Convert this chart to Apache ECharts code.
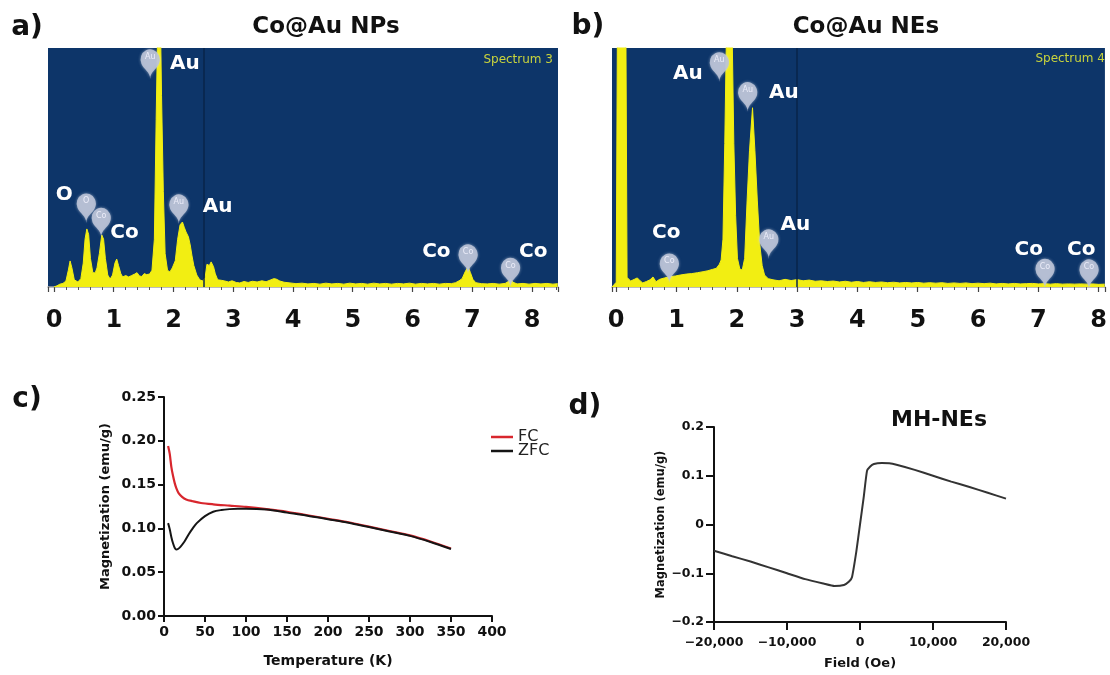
<!DOCTYPE html>
<html><head><meta charset="utf-8">
<script src="https://cdn.jsdelivr.net/npm/echarts@6/dist/echarts.min.js"></script>
<style>html,body{margin:0;padding:0;background:#fff}#c{width:1110px;height:675px}</style>
</head><body><div id="c"></div>
<script>
const FONT = 'DejaVu Sans';
const BLUE = '#0d3569';
const YELLOW = '#f2ee12';

// ---- Panel a: EDS spectrum, Co@Au NPs (keV, relative counts; >100 = off scale) ----
const spectrumA = [
[0.00,0],[0.05,0.5],[0.10,1.2],[0.15,1.5],[0.20,2.5],[0.24,7],[0.27,10.9],[0.30,8],[0.34,3],[0.40,2.1],
[0.45,3.5],[0.49,10],[0.52,20],[0.55,24.3],[0.58,22],[0.61,12],[0.65,6],[0.69,5.9],[0.72,8],[0.76,14],
[0.80,21.8],[0.83,20],[0.86,12],[0.90,5],[0.94,3.3],[0.98,5],[1.02,10],[1.05,11.7],[1.08,9],[1.12,5.5],
[1.15,4.2],[1.20,4.8],[1.25,4.2],[1.30,4.8],[1.35,5.4],[1.39,6],[1.43,4.6],[1.47,4.4],[1.51,5.6],[1.55,5.2],
[1.60,5.4],[1.64,7],[1.68,20],[1.71,70],[1.74,115],[1.78,115],[1.80,80],[1.83,40],[1.86,14],[1.90,7],
[1.94,6.3],[1.98,8],[2.03,11],[2.07,20],[2.11,26],[2.15,27.2],[2.18,25],[2.21,23],[2.25,21],[2.28,17.6],
[2.31,13],[2.34,9],[2.39,5],[2.44,3],[2.49,2.5],[2.53,4],[2.56,9.5],[2.60,9],[2.63,10.5],[2.67,8.5],
[2.70,5.5],[2.74,3],[2.80,2.8],[2.86,2.5],[2.92,2.1],[2.98,2.6],[3.05,1.9],[3.11,1.7],[3.18,2.3],[3.25,1.9],
[3.32,2.4],[3.40,2.1],[3.48,2.6],[3.55,2.2],[3.62,2.9],[3.68,3.5],[3.72,3.3],[3.78,2.5],[3.85,2.0],[3.95,1.7],
[4.05,1.4],[4.15,1.6],[4.25,1.3],[4.35,1.5],[4.45,1.2],[4.55,1.6],[4.65,1.3],[4.75,1.5],[4.85,1.2],[4.95,1.6],
[5.05,1.3],[5.15,1.5],[5.25,1.2],[5.35,1.6],[5.45,1.3],[5.55,1.5],[5.65,1.2],[5.75,1.5],[5.85,1.3],[5.95,1.6],
[6.05,1.2],[6.15,1.5],[6.25,1.3],[6.35,1.5],[6.45,1.2],[6.55,1.5],[6.65,1.4],[6.72,1.8],[6.78,2.6],[6.83,3.5],
[6.88,6.3],[6.93,8.5],[6.97,6],[7.01,3.2],[7.06,1.8],[7.15,1.4],[7.25,1.3],[7.35,1.5],[7.45,1.2],[7.55,1.5],
[7.60,2.2],[7.64,3.3],[7.68,2],[7.75,1.3],[7.85,1.5],[7.95,1.2],[8.05,1.5],[8.15,1.3],[8.25,1.5],[8.35,1.2],[8.43,1.4]
];
const textLabelsA = [[2.19,93.2,'Au'],[0.17,38.5,'O'],[1.18,22.7,'Co'],[2.74,33.6,'Au'],[6.40,14.8,'Co'],[8.02,14.8,'Co']];
const badgesA = [[1.61,95,'Au'],[0.54,34.7,'O'],[0.79,28.7,'Co'],[2.09,34.3,'Au'],[6.93,13.4,'Co'],[7.64,7.8,'Co']];
const markerA = 2.51;

// ---- Panel b: EDS spectrum, Co@Au NEs ----
const spectrumB = [
[-0.07,0],[0.00,2],[0.02,110],[0.16,110],[0.18,4],[0.24,2.5],[0.30,3.2],[0.35,3.8],[0.40,2.5],[0.44,1.7],
[0.50,2.3],[0.56,3],[0.61,4.2],[0.66,2.2],[0.72,3.2],[0.80,3.8],[0.89,4.3],[0.98,4.6],[1.06,5.0],[1.16,5.4],
[1.25,5.6],[1.35,6.0],[1.44,6.4],[1.52,6.8],[1.60,7.4],[1.66,7.8],[1.71,9.5],[1.74,11.3],[1.77,20],[1.80,60],
[1.83,110],[1.92,110],[1.95,60],[1.98,30],[2.01,12],[2.05,7.5],[2.09,7.1],[2.13,12],[2.17,36],[2.21,57],
[2.26,75],[2.30,57],[2.34,36],[2.38,18],[2.42,9],[2.46,5],[2.52,3.5],[2.60,3.0],[2.70,2.6],[2.80,3.2],
[2.90,2.7],[3.00,3.1],[3.10,2.6],[3.20,2.9],[3.30,2.4],[3.40,2.6],[3.50,2.3],[3.60,2.5],[3.70,2.1],[3.80,2.4],
[3.90,2.0],[4.00,2.3],[4.10,1.9],[4.20,2.2],[4.30,1.9],[4.40,2.1],[4.50,1.8],[4.60,2.0],[4.70,1.7],[4.80,1.9],
[4.90,1.7],[5.00,1.9],[5.10,1.6],[5.20,1.8],[5.30,1.6],[5.40,1.8],[5.50,1.5],[5.60,1.7],[5.70,1.5],[5.80,1.7],
[5.90,1.4],[6.00,1.6],[6.10,1.4],[6.20,1.6],[6.30,1.3],[6.40,1.5],[6.50,1.3],[6.60,1.5],[6.70,1.3],[6.80,1.4],
[6.90,1.5],[7.00,1.3],[7.10,1.4],[7.20,1.2],[7.30,1.4],[7.40,1.2],[7.50,1.3],[7.60,1.2],[7.70,1.3],[7.80,1.2],
[7.90,1.3],[8.00,1.1],[8.10,1.2]
];
const textLabelsB = [[1.19,89.4,'Au'],[2.78,81.3,'Au'],[2.97,25.9,'Au'],[0.83,22.5,'Co'],[6.84,15.5,'Co'],[7.71,15.5,'Co']];
const badgesB = [[1.71,93.8,'Au'],[2.18,81.3,'Au'],[2.53,19.7,'Au'],[0.88,9.6,'Co'],[7.11,7.4,'Co'],[7.84,7.1,'Co']];
const markerB = 3.0;

// ---- Panel c: FC / ZFC magnetization vs temperature ----
const tempFC = [5,7,9,11,13,15,18,22,27,35,45,60,80,100,125,150,175,200,225,250,275,300,325,350];
const magFC  = [0.194,0.185,0.170,0.160,0.152,0.146,0.140,0.136,0.133,0.131,0.129,0.1275,0.126,0.1245,0.122,0.119,0.115,0.111,0.107,0.102,0.097,0.092,0.085,0.077];
const tempZFC = [5,7,9,11,13,15,17,20,25,30,35,40,50,60,70,80,90,100,125,150,175,200,225,250,275,300,325,350];
const magZFC  = [0.106,0.099,0.090,0.083,0.078,0.076,0.0765,0.079,0.085,0.093,0.100,0.106,0.114,0.119,0.121,0.122,0.1225,0.1225,0.1215,0.118,0.1145,0.1105,0.1065,0.1015,0.0965,0.0915,0.0845,0.0765];

// ---- Panel d: M-H loop ----
const fieldMH = [-20000,-17500,-15000,-12500,-10000,-7500,-5000,-3500,-2200,-1500,-1100,-500,0,500,960,1400,1900,3000,4000,5000,7500,10000,12500,15000,17500,20000];
const magMH   = [-0.054,-0.065,-0.076,-0.088,-0.100,-0.112,-0.121,-0.126,-0.124,-0.117,-0.108,-0.055,0.000,0.055,0.110,0.119,0.124,0.126,0.1255,0.1225,0.112,0.100,0.088,0.077,0.065,0.053];

const pair = (xs, ys) => xs.map((x, i) => [x, ys[i]]);
const minus = '\u2212';

function specXAxis(gi, min, max) {
  return {
    gridIndex: gi, type: 'value', min: min, max: max, splitNumber: 8,
    axisLine: {show: true, onZero: false, lineStyle: {color: '#a6a6a6', width: 1.5}},
    axisTick: {show: true, length: 5, lineStyle: {color: '#444', width: 1.2}},
    minorTick: {show: true, splitNumber: 5, length: 3, lineStyle: {color: '#555', width: 1}},
    splitLine: {show: false},
    axisLabel: {fontFamily: FONT, fontSize: 24, fontWeight: 'bold', color: '#111', margin: 22,
      formatter: v => Math.abs(v - Math.round(v)) < 1e-6 ? String(Math.round(v)) : ''}
  };
}
function specYAxis(gi) {
  return {gridIndex: gi, type: 'value', min: 0, max: 100, show: false};
}
function specSeries(idx, data, marker) {
  return {
    type: 'line', xAxisIndex: idx, yAxisIndex: idx, data: data, showSymbol: false, symbol: 'none',
    clip: true, silent: true, z: 2,
    lineStyle: {color: YELLOW, width: 1}, areaStyle: {color: YELLOW, opacity: 1},
    markLine: {silent: true, symbol: 'none', label: {show: false},
      lineStyle: {color: '#08244a', width: 1.5, type: 'solid'}, data: [{xAxis: marker}]}
  };
}
function badgeSeries(idx, arr) {
  return {
    type: 'scatter', xAxisIndex: idx, yAxisIndex: idx, silent: true, z: 6,
    data: arr.map(b => ({value: [b[0], b[1]], name: b[2]})),
    symbol: 'pin', symbolSize: [32, 34], symbolOffset: [0, 19],
    itemStyle: {color: 'rgba(186,194,214,0.9)', opacity: 1, shadowBlur: 3, shadowColor: 'rgba(230,235,245,0.6)'},
    label: {show: true, position: 'inside', formatter: '{b}', fontFamily: FONT, fontSize: 8,
      color: 'rgba(245,245,255,0.85)', offset: [0, -4]}
  };
}
function textSeries(idx, arr) {
  return {
    type: 'scatter', xAxisIndex: idx, yAxisIndex: idx, silent: true, z: 7,
    data: arr.map(b => ({value: [b[0], b[1]], name: b[2]})),
    symbolSize: 1, itemStyle: {color: 'transparent', opacity: 1},
    label: {show: true, position: 'inside', formatter: '{b}', fontFamily: FONT, fontSize: 20,
      fontWeight: 'bold', color: '#ffffff', opacity: 1}
  };
}
const magAxisCommon = {
  axisLine: {show: true, onZero: false, lineStyle: {color: '#111', width: 2}},
  axisTick: {show: true, length: 6, lineStyle: {color: '#111', width: 2}},
  splitLine: {show: false}
};

const chart = echarts.init(document.getElementById('c'), null, {renderer: 'canvas'});
chart.setOption({
  animation: false,
  textStyle: {fontFamily: FONT},
  grid: [
    {left: 48, top: 48, width: 510, height: 239, show: true, backgroundColor: BLUE, borderWidth: 0},
    {left: 612, top: 48, width: 497, height: 239, show: true, backgroundColor: BLUE, borderWidth: 0},
    {left: 164, top: 397, width: 328, height: 219},
    {left: 714, top: 427, width: 292, height: 195}
  ],
  xAxis: [
    specXAxis(0, -0.1, 8.435),
    specXAxis(1, -0.07, 8.104),
    Object.assign({gridIndex: 2, type: 'value', min: 0, max: 400, interval: 50,
      name: 'Temperature (K)', nameLocation: 'middle', nameGap: 38,
      nameTextStyle: {fontFamily: FONT, fontSize: 14, fontWeight: 'bold', color: '#111'},
      axisLabel: {fontFamily: FONT, fontSize: 14, fontWeight: 'bold', color: '#111', margin: 9}}, magAxisCommon),
    Object.assign({gridIndex: 3, type: 'value', min: -20000, max: 20000, interval: 10000,
      name: 'Field (Oe)', nameLocation: 'middle', nameGap: 35,
      nameTextStyle: {fontFamily: FONT, fontSize: 13, fontWeight: 'bold', color: '#111'},
      axisLabel: {fontFamily: FONT, fontSize: 12.5, fontWeight: 'bold', color: '#111', margin: 14,
        formatter: v => (v < 0 ? minus : '') + Math.abs(v).toLocaleString('en-US')}},
      magAxisCommon, {axisTick: {show: true, length: 8, lineStyle: {color: '#111', width: 2}}})
  ],
  yAxis: [
    specYAxis(0), specYAxis(1),
    Object.assign({gridIndex: 2, type: 'value', min: 0, max: 0.25, interval: 0.05,
      name: 'Magnetization (emu/g)', nameLocation: 'middle', nameGap: 52, nameRotate: 90,
      nameTextStyle: {fontFamily: FONT, fontSize: 13, fontWeight: 'bold', color: '#111'},
      axisLabel: {fontFamily: FONT, fontSize: 14, fontWeight: 'bold', color: '#111', margin: 8,
        formatter: v => v.toFixed(2)}}, magAxisCommon),
    Object.assign({gridIndex: 3, type: 'value', min: -0.2, max: 0.2, interval: 0.1,
      name: 'Magnetization (emu/g)', nameLocation: 'middle', nameGap: 42, nameRotate: 90,
      nameTextStyle: {fontFamily: FONT, fontSize: 11.5, fontWeight: 'bold', color: '#111'},
      axisLabel: {fontFamily: FONT, fontSize: 12.5, fontWeight: 'bold', color: '#111', margin: 10,
        formatter: v => Math.abs(v) < 1e-9 ? '0' : (v < 0 ? minus : '') + Math.abs(v).toFixed(1)}},
      magAxisCommon, {axisTick: {show: true, length: 8, lineStyle: {color: '#111', width: 2}}})
  ],
  legend: {
    data: ['FC', 'ZFC'], orient: 'vertical', left: 486, top: 424, icon: 'rect',
    itemWidth: 22, itemHeight: 2.5, itemGap: -2,
    textStyle: {fontFamily: FONT, fontSize: 16, color: '#222'}
  },
  series: [
    specSeries(0, spectrumA, markerA),
    specSeries(1, spectrumB, markerB),
    badgeSeries(0, badgesA), badgeSeries(1, badgesB),
    textSeries(0, textLabelsA), textSeries(1, textLabelsB),
    {type: 'line', name: 'FC', xAxisIndex: 2, yAxisIndex: 2, data: pair(tempFC, magFC),
      showSymbol: false, symbol: 'none', smooth: 0.3, lineStyle: {color: '#d8262d', width: 2.2}, itemStyle: {color: '#d8262d'}},
    {type: 'line', name: 'ZFC', xAxisIndex: 2, yAxisIndex: 2, data: pair(tempZFC, magZFC),
      showSymbol: false, symbol: 'none', smooth: 0.3, lineStyle: {color: '#151515', width: 2}, itemStyle: {color: '#151515'}},
    {type: 'line', name: 'MH-NEs', xAxisIndex: 3, yAxisIndex: 3, data: pair(fieldMH, magMH),
      showSymbol: false, symbol: 'none', smooth: 0.15, lineStyle: {color: '#333', width: 2}, itemStyle: {color: '#333'}}
  ],
  graphic: [
    {type: 'text', x: 27, y: 28, style: {text: 'a)', fill: '#111', font: 'bold 28px "DejaVu Sans"', align: 'center', verticalAlign: 'middle'}},
    {type: 'text', x: 326, y: 27, style: {text: 'Co@Au NPs', fill: '#111', font: 'bold 23px "DejaVu Sans"', align: 'center', verticalAlign: 'middle'}},
    {type: 'text', x: 588, y: 27, style: {text: 'b)', fill: '#111', font: 'bold 28px "DejaVu Sans"', align: 'center', verticalAlign: 'middle'}},
    {type: 'text', x: 866, y: 27, style: {text: 'Co@Au NEs', fill: '#111', font: 'bold 23px "DejaVu Sans"', align: 'center', verticalAlign: 'middle'}},
    {type: 'text', x: 553, y: 60, style: {text: 'Spectrum 3', fill: '#c9d43c', font: '12px "DejaVu Sans"', align: 'right', verticalAlign: 'middle'}},
    {type: 'text', x: 1105, y: 59, style: {text: 'Spectrum 4', fill: '#c9d43c', font: '12px "DejaVu Sans"', align: 'right', verticalAlign: 'middle'}},
    {type: 'text', x: 27, y: 400, style: {text: 'c)', fill: '#111', font: 'bold 28px "DejaVu Sans"', align: 'center', verticalAlign: 'middle'}},
    {type: 'text', x: 585, y: 407, style: {text: 'd)', fill: '#111', font: 'bold 28px "DejaVu Sans"', align: 'center', verticalAlign: 'middle'}},
    {type: 'text', x: 939, y: 420, style: {text: 'MH-NEs', fill: '#111', font: 'bold 22px "DejaVu Sans"', align: 'center', verticalAlign: 'middle'}}
  ]
});
</script></body></html>
